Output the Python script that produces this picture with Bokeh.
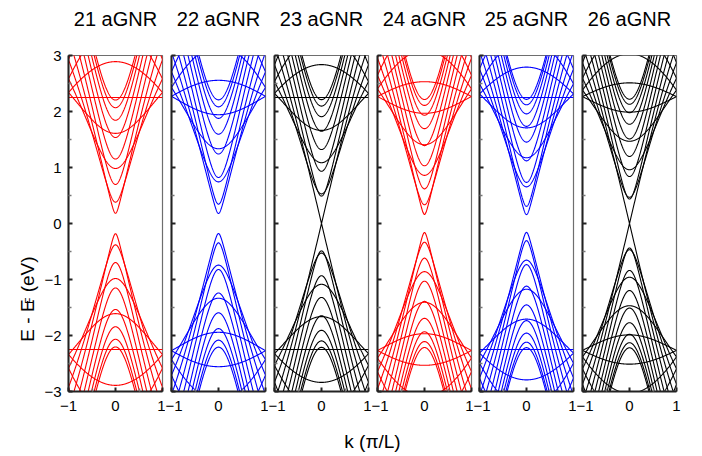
import numpy as np
from bokeh.plotting import figure
from bokeh.layouts import row, column
from bokeh.models import FixedTicker, Range1d
from bokeh.core.properties import value
from bokeh.embed import file_html
from bokeh.resources import INLINE

# Ribbon widths (number of dimer lines) and their panel styling
ribbon_widths = [21, 22, 23, 24, 25, 26]
panel_titles = ["21 aGNR", "22 aGNR", "23 aGNR", "24 aGNR", "25 aGNR", "26 aGNR"]
band_colors = ["#ff0000", "#0000ff", "#000000", "#ff0000", "#0000ff", "#000000"]

# Nearest-neighbour hopping energy (eV) and wave-vector grid in units of pi/L
hopping_ev = 2.25
k_values = np.linspace(-1.0, 1.0, 401)

x_ticks = [-1, 0, 1]
x_minor = [-0.5, 0.5]
y_ticks = [-3, -2, -1, 0, 1, 2, 3]
y_minor = [-2.5, -1.5, -0.5, 0.5, 1.5, 2.5]

FONT = "Liberation Sans"
AXIS_COLOR = "#222222"
FRAME_W, FRAME_H = 94, 336
TOP_H, BOTTOM_H = 36, 36        # heights of the title strip and x-label strip
YLAB_W = 40                     # width of the y-label strip


def subbands(n):
    """Tight-binding subbands of an armchair ribbon with n dimer lines."""
    xs, ys = [], []
    for p in range(1, n + 1):
        eps = 2.0 * np.cos(p * np.pi / (n + 1))
        e = hopping_ev * np.sqrt(1.0 + eps ** 2 + 2.0 * eps * np.cos(np.pi * k_values / 2.0))
        for sign in (1.0, -1.0):
            xs.append(k_values)
            ys.append(sign * e)
    return xs, ys


# left / right borders so that neighbouring panels sit close together
left_borders = [28, 6, 6, 6, 6, 6]
right_borders = [3, 3, 3, 2, 3, 26]

panels = []
centers = []
x_cursor = YLAB_W
for i, n in enumerate(ribbon_widths):
    p = figure(title=None, frame_width=FRAME_W, frame_height=FRAME_H,
               x_range=Range1d(-1, 1), y_range=Range1d(-3, 3),
               output_backend="svg", toolbar_location=None,
               min_border_left=left_borders[i], min_border_right=right_borders[i],
               min_border_top=19, min_border_bottom=29)
    xs, ys = subbands(n)
    p.multi_line(xs, ys, line_color=band_colors[i], line_width=1.1)

    p.xgrid.visible = False
    p.ygrid.visible = False
    p.outline_line_color = "#6e6e6e"
    p.outline_line_width = 1.2
    p.background_fill_color = "white"
    p.border_fill_color = None

    for ax in (p.xaxis[0], p.yaxis[0]):
        ax.axis_line_color = AXIS_COLOR
        ax.axis_line_width = 2
        ax.major_tick_in = 4
        ax.major_tick_out = 0
        ax.minor_tick_in = 3
        ax.minor_tick_out = 0
        ax.major_tick_line_color = AXIS_COLOR
        ax.major_tick_line_width = 2
        ax.minor_tick_line_color = "#777777"
        ax.minor_tick_line_width = 1.5
        ax.major_label_text_font = FONT
        ax.major_label_text_font_size = "15px"
        ax.major_label_text_color = "black"

    p.xaxis.ticker = FixedTicker(ticks=x_ticks, minor_ticks=x_minor)
    p.xaxis.major_label_standoff = 9
    p.yaxis.ticker = FixedTicker(ticks=y_ticks, minor_ticks=y_minor)
    if i == 0:
        p.yaxis.major_label_standoff = 7
    else:
        p.yaxis.major_label_standoff = 0
        p.yaxis.major_label_overrides = {t: "" for t in y_ticks}

    centers.append(x_cursor + left_borders[i] + FRAME_W / 2)
    x_cursor += left_borders[i] + FRAME_W + right_borders[i]
    panels.append(p)

total_w = x_cursor

# Panel titles above each frame
tops = figure(width=total_w, height=TOP_H, x_range=Range1d(0, total_w), y_range=Range1d(0, TOP_H),
              output_backend="svg", toolbar_location=None, min_border=0)
tops.axis.visible = False
tops.grid.visible = False
tops.outline_line_color = None
tops.text(x=centers, y=[18] * len(centers), text=panel_titles,
          text_font=value(FONT), text_font_size="20px",
          text_align="center", text_baseline="alphabetic", text_color="black")

# Vertical axis title, drawn with a subscript F
panel_h = FRAME_H + 19 + 29
ylab = figure(width=YLAB_W, height=panel_h, x_range=Range1d(0, YLAB_W), y_range=Range1d(0, panel_h),
              output_backend="svg", toolbar_location=None, min_border=0)
ylab.axis.visible = False
ylab.grid.visible = False
ylab.outline_line_color = None
main_size, sub_size = 19, 10
y0 = 29 + 28          # start of the label, measured from the strip bottom
w_main = 2.223 * main_size
ylab.text(x=[27], y=[y0], text=["E - E"], angle=np.pi / 2,
          text_font=value(FONT), text_font_size=f"{main_size}px",
          text_align="left", text_baseline="alphabetic", text_color="black")
ylab.text(x=[28.5], y=[y0 + w_main + 1], text=["F"], angle=np.pi / 2,
          text_font=value(FONT), text_font_size=f"{sub_size}px",
          text_align="left", text_baseline="alphabetic", text_color="black")
ylab.text(x=[27], y=[y0 + w_main + 0.611 * sub_size + 8], text=["(eV)"], angle=np.pi / 2,
          text_font=value(FONT), text_font_size=f"{main_size}px",
          text_align="left", text_baseline="alphabetic", text_color="black")

# Horizontal axis title beneath all panels
xlab = figure(width=total_w, height=BOTTOM_H, x_range=Range1d(0, total_w), y_range=Range1d(0, BOTTOM_H),
              output_backend="svg", toolbar_location=None, min_border=0)
xlab.axis.visible = False
xlab.grid.visible = False
xlab.outline_line_color = None
xlab.text(x=[(centers[0] + centers[-1]) / 2], y=[15], text=["k (\u03c0/L)"],
          text_font=value(FONT), text_font_size="19px",
          text_align="center", text_baseline="alphabetic", text_color="black")

layout = column(tops, row([ylab] + panels, spacing=0), xlab, spacing=0)

with open("out.html", "w") as f:
    f.write(file_html(layout, INLINE))
